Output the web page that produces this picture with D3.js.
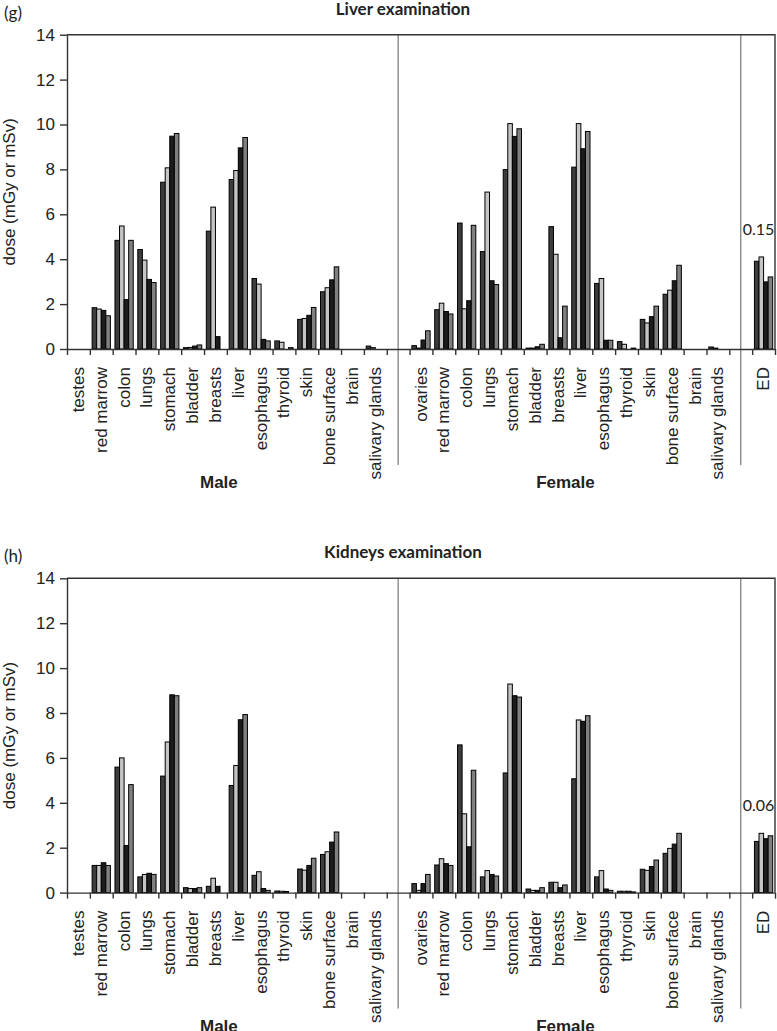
<!DOCTYPE html>
<html>
<head>
<meta charset="utf-8">
<script src="https://cdn.jsdelivr.net/npm/d3@7"></script>
<style>
  body { margin: 0; background: #fff; }
  svg { display: block; font-family: Lato, 'Open Sans', sans-serif; }
</style>
</head>
<body>
<svg width="777" height="1031"></svg>
<script>
// organ categories and values (4 bars per organ)
var maleOrgans = ['testes', 'red marrow', 'colon', 'lungs', 'stomach', 'bladder', 'breasts',
  'liver', 'esophagus', 'thyroid', 'skin', 'bone surface', 'brain', 'salivary glands'];
var femaleOrgans = ['ovaries', 'red marrow', 'colon', 'lungs', 'stomach', 'bladder', 'breasts',
  'liver', 'esophagus', 'thyroid', 'skin', 'bone surface', 'brain', 'salivary glands'];
var yTicks = [0, 2, 4, 6, 8, 10, 12, 14];

var liverMale = [
  [0, 0, 0, 0],
  [1.84, 1.78, 1.72, 1.48],
  [4.84, 5.48, 2.2, 4.84],
  [4.43, 3.96, 3.1, 2.96],
  [7.43, 8.07, 9.48, 9.6],
  [0.06, 0.07, 0.13, 0.18],
  [5.25, 6.32, 0.55, 0],
  [7.55, 7.95, 8.96, 9.42],
  [3.14, 2.89, 0.43, 0.36],
  [0.36, 0.3, 0, 0.06],
  [1.32, 1.36, 1.5, 1.85],
  [2.55, 2.73, 3.08, 3.66],
  [0, 0, 0, 0],
  [0.13, 0.06, 0, 0]
];
var liverFemale = [
  [0.15, 0.04, 0.4, 0.81],
  [1.75, 2.04, 1.67, 1.56],
  [5.61, 1.79, 2.15, 5.51],
  [4.34, 6.99, 3.04, 2.87],
  [7.99, 10.04, 9.47, 9.81],
  [0.04, 0.04, 0.1, 0.21],
  [5.45, 4.22, 0.5, 1.91],
  [8.1, 10.04, 8.92, 9.69],
  [2.92, 3.14, 0.39, 0.39],
  [0.33, 0.21, 0, 0.04],
  [1.32, 1.16, 1.44, 1.91],
  [2.44, 2.62, 3.04, 3.73],
  [0, 0, 0, 0],
  [0.09, 0.04, 0, 0]
];
var liverED = [3.91, 4.1, 2.99, 3.21];

var kidneysMale = [
  [0, 0, 0, 0],
  [1.21, 1.21, 1.33, 1.21],
  [5.59, 6.0, 2.1, 4.81],
  [0.7, 0.81, 0.86, 0.81],
  [5.19, 6.71, 8.81, 8.77],
  [0.22, 0.18, 0.18, 0.22],
  [0.28, 0.64, 0.28, 0],
  [4.77, 5.66, 7.7, 7.93],
  [0.77, 0.93, 0.18, 0.1],
  [0.07, 0.06, 0.05, 0],
  [1.05, 1.0, 1.21, 1.53],
  [1.7, 1.82, 2.25, 2.7],
  [0, 0, 0, 0],
  [0, 0, 0, 0]
];
var kidneysFemale = [
  [0.4, 0.1, 0.4, 0.81],
  [1.23, 1.51, 1.29, 1.21],
  [6.58, 3.51, 2.04, 5.45],
  [0.7, 0.98, 0.81, 0.74],
  [5.33, 9.29, 8.77, 8.71],
  [0.16, 0.1, 0.1, 0.22],
  [0.46, 0.46, 0.22, 0.34],
  [5.07, 7.69, 7.63, 7.88],
  [0.7, 0.98, 0.16, 0.1],
  [0.06, 0.06, 0.06, 0.03],
  [1.04, 0.99, 1.16, 1.45],
  [1.75, 1.97, 2.16, 2.64],
  [0, 0, 0, 0],
  [0, 0, 0, 0]
];
var kidneysED = [2.28, 2.64, 2.4, 2.53];

var edNotes = ['0.15', '0.06'];

var barColors = ['#3d3d3d', '#c4c4c4', '#1c1c1c', '#808080'];

var svg = d3.select('svg');
var padding = { l: 67, r: 2 };
var plotW = +svg.attr('width') - padding.l - padding.r;
var plotH = 314.3;
var panelTops = [34.7, 578.3];

var panels = [
  { tag: '(g)', title: 'Liver examination', male: liverMale, female: liverFemale, ed: liverED, note: edNotes[0] },
  { tag: '(h)', title: 'Kidneys examination', male: kidneysMale, female: kidneysFemale, ed: kidneysED, note: edNotes[1] }
];

// 31 slots: 14 male, gap, 14 female, gap, ED
function buildSlots(p) {
  var slots = [];
  maleOrgans.forEach(function(name, i) {
    slots.push({ key: 'm' + i, label: name, values: p.male[i] });
  });
  slots.push({ key: 'gap1', label: '', values: [] });
  femaleOrgans.forEach(function(name, i) {
    slots.push({ key: 'f' + i, label: name, values: p.female[i] });
  });
  slots.push({ key: 'gap2', label: '', values: [] });
  slots.push({ key: 'ED', label: 'ED', values: p.ed });
  return slots;
}

var yScale = d3.scaleLinear().domain([0, 14]).range([plotH, 0]);

panels.forEach(function(p, pi) {
  var slots = buildSlots(p);
  var xScale = d3.scaleBand()
    .domain(slots.map(d => d.key))
    .range([0, plotW]);
  var bw = xScale.bandwidth();
  var xInner = d3.scaleBand()
    .domain([0, 1, 2, 3])
    .range([bw * 0.1, bw * 0.9]);
  var xEdge = d3.scaleLinear()
    .domain([0, slots.length])
    .range([0, plotW]);

  var top = panelTops[pi];
  var g = svg.append('g')
    .attr('transform', 'translate(' + [padding.l, top] + ')');

  // panel tag and title
  svg.append('text')
    .attr('x', 4)
    .attr('y', top - 16)
    .style('font-size', '17px')
    .style('fill', '#222')
    .text(p.tag);
  svg.append('text')
    .attr('x', 403)
    .attr('y', top - 20)
    .attr('text-anchor', 'middle')
    .style('font-size', '17px')
    .style('font-weight', 'bold')
    .style('fill', '#222')
    .text(p.title);

  // separators
  ['gap1', 'gap2'].forEach(function(k) {
    g.append('line')
      .attr('x1', xScale(k) + bw / 2)
      .attr('x2', xScale(k) + bw / 2)
      .attr('y1', 0)
      .attr('y2', plotH + 116)
      .style('stroke', '#8a8a8a')
      .style('stroke-width', 1.4);
  });

  // frame top and right
  g.append('path')
    .attr('d', 'M0,0H' + plotW + 'V' + plotH)
    .style('fill', 'none')
    .style('stroke', '#333')
    .style('stroke-width', 1.4);

  // bars
  var cells = g.selectAll('.cell')
    .data(slots)
    .enter()
    .append('g')
    .attr('class', 'cell')
    .attr('transform', d => 'translate(' + xScale(d.key) + ',0)');
  cells.selectAll('rect')
    .data(d => d.values.map((v, i) => ({ i: i, v: v })).filter(b => b.v > 0))
    .enter()
    .append('rect')
    .attr('x', b => xInner(b.i))
    .attr('width', xInner.bandwidth())
    .attr('y', b => yScale(b.v))
    .attr('height', b => plotH - yScale(b.v))
    .style('fill', b => barColors[b.i])
    .style('stroke', '#000')
    .style('stroke-width', 1);

  // ED note
  g.append('text')
    .attr('x', xScale('ED') + bw / 2 - 5)
    .attr('y', yScale(d3.max(p.ed)) - 22)
    .attr('text-anchor', 'middle')
    .style('font-size', '16px')
    .style('fill', '#222')
    .text(p.note);

  // y axis
  var yAxisG = g.append('g')
    .attr('class', 'axis')
    .call(d3.axisLeft(yScale).tickValues(yTicks).tickSize(7).tickPadding(5).tickSizeOuter(0));
  yAxisG.selectAll('text').style('font-size', '17px').style('fill', '#222');
  yAxisG.append('text')
    .text('dose (mGy or mSv)')
    .attr('transform', 'rotate(-90)')
    .attr('x', -plotH / 2)
    .attr('y', -padding.l + 15)
    .attr('text-anchor', 'middle')
    .style('font-size', '17px')
    .style('fill', '#222');

  // x axis: ticks on slot edges
  var xAxisG = g.append('g')
    .attr('class', 'axis')
    .attr('transform', 'translate(0,' + plotH + ')')
    .call(d3.axisBottom(xEdge).tickValues(d3.range(slots.length + 1)).tickFormat('').tickSize(6).tickSizeOuter(0));

  xAxisG.selectAll('.lbl')
    .data(slots.filter(d => d.label))
    .enter()
    .append('text')
    .attr('class', 'lbl')
    .attr('transform', d => 'translate(' + [xScale(d.key) + bw / 2, 18] + ') rotate(-90)')
    .attr('text-anchor', 'end')
    .attr('dominant-baseline', 'central')
    .style('font-size', '17px')
    .style('fill', '#222')
    .text(d => d.label);

  var maleMid = (xScale('m0') + xScale('m13') + bw) / 2;
  var femaleMid = (xScale('f0') + xScale('f13') + bw) / 2;
  [['Male', maleMid - 8], ['Female', femaleMid - 4]].forEach(function(s) {
    xAxisG.append('text')
      .attr('x', s[1])
      .attr('y', 139)
      .attr('text-anchor', 'middle')
      .style('font-size', '17px')
      .style('font-weight', 'bold')
      .style('fill', '#222')
      .text(s[0]);
  });

  g.selectAll('.axis path, .axis line')
    .style('stroke', '#333')
    .style('stroke-width', 1.4);
});
</script>
</body>
</html>
